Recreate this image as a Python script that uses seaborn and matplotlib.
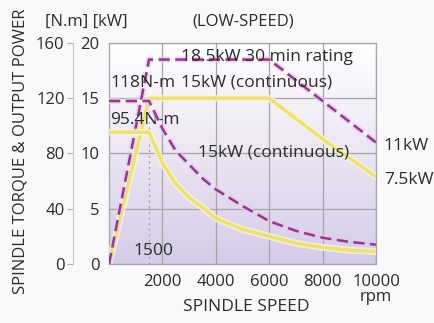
import numpy as np
import pandas as pd
import matplotlib
matplotlib.use("Agg")
import matplotlib.pyplot as plt
import matplotlib.patheffects as pe
from matplotlib.colors import LinearSegmentedColormap
import seaborn as sns

# ---- data ----
speed_power_30min = [0, 1500, 6000, 10000]
power_30min = [0, 18.5, 18.5, 11.0]

speed_power_cont = [0, 1500, 6000, 8000, 10000]
power_cont = [0, 15.0, 15.0, 11.3, 7.9]

speed_torque_30min = [0, 1500, 2000, 2500, 3000, 3500, 4000, 5000, 6000, 7000, 8000, 9000, 10000]
torque_30min = [118, 118, 98, 82, 72, 62, 54, 42, 31, 24, 19, 16, 14]

speed_torque_cont = [0, 1500, 2000, 2500, 3000, 3500, 4000, 5000, 6000, 7000, 8000, 9000, 10000]
torque_cont = [95.4, 95.4, 73, 58, 48, 41, 33, 25, 20, 15, 12, 10, 9]

base_speed = 1500
x_ticks = [2000, 4000, 6000, 8000, 10000]
x_tick_labels = ["2000", "4000", "6000", "8000", "10000\nrpm"]
power_ticks = [0, 5, 10, 15, 20]
torque_ticks = [0, 40, 80, 120, 160]

# ---- style ----
sns.set_style("white")
plt.rcParams["font.family"] = ["Open Sans", "DejaVu Sans"]
txt = "#2b2b2b"
grid_c = "#a3a3a8"
yellow = "#ece07a"
purple = "#8a3d8c"

fig = plt.figure(figsize=(4.34, 3.23), dpi=100, facecolor="#f9f9fb")
ax = fig.add_axes([0.2512, 0.1827, 0.6152, 0.6842])
ax.set_facecolor("white")

# background gradient inside plot
cmap = LinearSegmentedColormap.from_list("bg", ["#d4cce8", "#ebe6f3", "#ffffff"])
grad = np.linspace(0, 1, 256).reshape(-1, 1)
ax.imshow(grad, extent=[0, 10000, 0, 20], origin="lower", aspect="auto",
          cmap=cmap, zorder=0)

ax.set_xlim(0, 10000)
ax.set_ylim(0, 20)
ax.set_xticks(x_ticks)
ax.set_xticklabels(x_tick_labels, linespacing=0.95)
ax.set_yticks(power_ticks)
ax.grid(True, color=grid_c, lw=0.9, zorder=1)
ax.set_axisbelow(False)
for s in ax.spines.values():
    s.set_color(grid_c)
    s.set_linewidth(0.9)
ax.tick_params(axis="both", length=0, labelsize=12, colors=txt)
ax.tick_params(axis="y", pad=7)
ax.tick_params(axis="x", pad=7)

# torque axis (outer left)
ax2 = ax.twinx()
ax2.set_ylim(0, 160)
ax2.set_yticks(torque_ticks)
ax2.yaxis.set_ticks_position("left")
ax2.yaxis.set_label_position("left")
ax2.spines["left"].set_position(("outward", 26))
ax2.spines["left"].set_color("#c8c8cc")
for k in ["right", "top", "bottom"]:
    ax2.spines[k].set_visible(False)
ax2.tick_params(axis="y", length=4, width=0.8, color="#b0b0b4",
                labelsize=12, colors=txt, pad=2)
ax2.grid(False)

glow_y = [pe.Stroke(linewidth=5, foreground="#fbf6c8", alpha=0.8), pe.Normal()]
glow_p = [pe.Stroke(linewidth=4.5, foreground="#f3c4ea", alpha=0.7), pe.Normal()]

# power curves
sns.lineplot(x=speed_power_cont, y=power_cont, ax=ax, color=yellow, lw=2.4,
             estimator=None, sort=False, zorder=3, path_effects=glow_y)
sns.lineplot(x=speed_power_30min, y=power_30min, ax=ax, color=purple, lw=1.8,
             estimator=None, sort=False, zorder=4,
             linestyle=(0, (4.5, 2.2)), path_effects=glow_p)
# torque curves
sns.lineplot(x=speed_torque_cont, y=torque_cont, ax=ax2, color=yellow, lw=2.4,
             estimator=None, sort=False, zorder=3, path_effects=glow_y)
sns.lineplot(x=speed_torque_30min, y=torque_30min, ax=ax2, color=purple, lw=1.8,
             estimator=None, sort=False, zorder=4,
             linestyle=(0, (4.5, 2.2)), path_effects=glow_p)

# base speed dotted marker
ax.vlines(base_speed, 0, 15, colors="#9a9aa0", lw=0.9, linestyles=(0, (1.5, 3)), zorder=2)

# annotations
fs = 12.5
ax.text(2700, 18.7, "18.5kW 30 min rating", fontsize=fs, color=txt, va="center", ha="left", zorder=6)
ax.text(60, 16.4, "118N-m", fontsize=fs, color=txt, va="center", ha="left", zorder=6)
ax.text(2700, 16.4, "15kW (continuous)", fontsize=fs, color=txt, va="center", ha="left", zorder=6)
ax.text(60, 13.0, "95.4N-m", fontsize=fs, color=txt, va="center", ha="left", zorder=6)
ax.text(3350, 10.1, "15kW (continuous)", fontsize=fs, color=txt, va="center", ha="left", zorder=6)
ax.text(10280, 10.7, "11kW", fontsize=fs, color=txt, va="center", ha="left", clip_on=False)
ax.text(10300, 7.6, "7.5kW", fontsize=fs, color=txt, va="center", ha="left", clip_on=False)
ax.text(900, 1.2, "1500", fontsize=fs, color=txt, va="center", ha="left", zorder=6)

# headers / labels
fig.text(0.104, 0.932, "[N.m] [kW]", fontsize=12, color=txt, ha="left", va="center")
fig.text(0.560, 0.932, "(LOW-SPEED)", fontsize=12, color=txt, ha="center", va="center")
fig.text(0.567, 0.049, "SPINDLE SPEED", fontsize=12.5, color=txt, ha="center", va="center")
fig.text(0.048, 0.533, "SPINDLE TORQUE & OUTPUT POWER", fontsize=12, color=txt,
         ha="center", va="center", rotation=90)

ax.set_xlabel("")
ax.set_ylabel("")
ax2.set_ylabel("")
leg = ax.get_legend()
if leg:
    leg.remove()

fig.savefig("out.png", dpi=100, facecolor=fig.get_facecolor())
